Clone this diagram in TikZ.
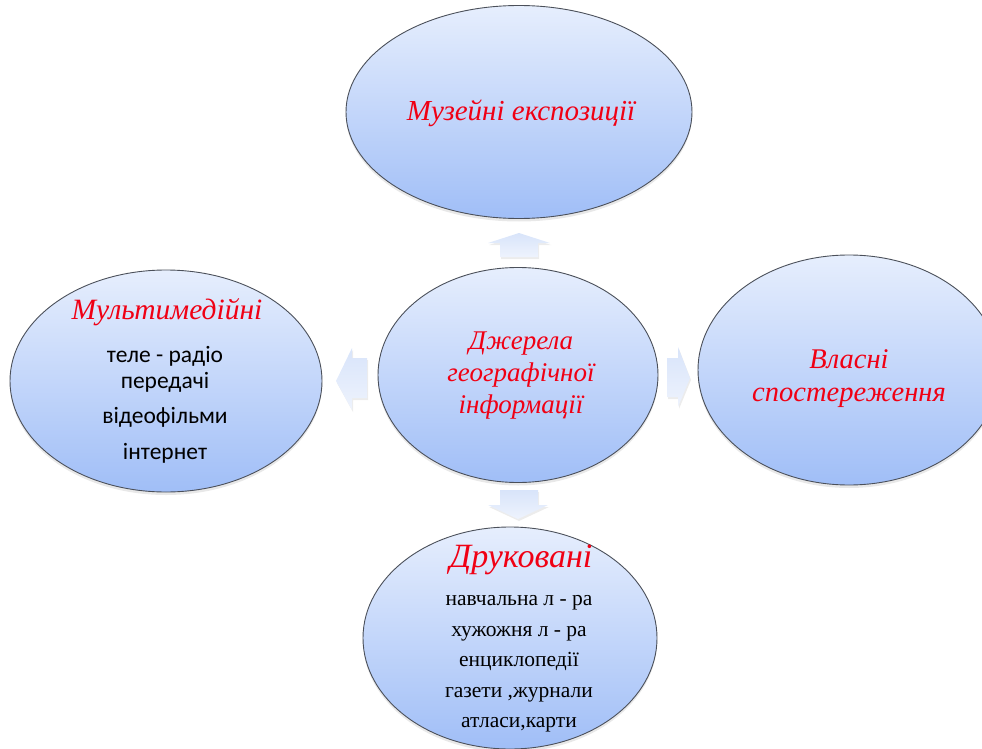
\documentclass[tikz,border=0pt]{standalone}
\usepackage{fontspec}
\setmainfont{Liberation Serif}
\newfontfamily\calib{Carlito}
\usetikzlibrary{shapes.geometric,shadows}
\definecolor{btop}{RGB}{230,238,253}
\definecolor{bbot}{RGB}{160,190,247}
\definecolor{bline}{RGB}{75,80,90}
\definecolor{atop}{RGB}{216,228,250}
\definecolor{abot}{RGB}{238,243,253}
\definecolor{redtxt}{RGB}{240,0,20}
\begin{document}
\begin{tikzpicture}[x=1pt,y=-1pt,
  bubble/.style={ellipse, draw=bline, line width=0.9pt, top color=btop, bottom color=bbot,
    inner sep=0pt, drop shadow={opacity=0.18, shadow xshift=0pt, shadow yshift=-3pt}},
  redt/.style={text=redtxt, font=\itshape\fontsize{#1}{#1}\selectfont, align=center, inner sep=0pt},
  blkc/.style={text=black, font=\calib\fontsize{23.5}{26}\selectfont, align=center, inner sep=0pt},
  blkt/.style={text=black, font=\fontsize{21.5}{30.5}\selectfont, align=center, inner sep=0pt},
  blockarrow/.style={draw=none, top color=atop, bottom color=abot,
    drop shadow={opacity=0.15, shadow xshift=1pt, shadow yshift=-2pt}}]
\useasboundingbox (0,0) rectangle (982,749);

% ellipses
\node[bubble, minimum width=346pt, minimum height=213pt] (top) at (519,112) {};
\node[bubble, minimum width=280pt, minimum height=215pt] (ctr) at (518,375) {};
\node[bubble, minimum width=312pt, minimum height=222pt] (lft) at (166,381) {};
\node[bubble, minimum width=302pt, minimum height=230pt] (rgt) at (849,370) {};
\node[bubble, minimum width=294pt, minimum height=222pt] (bot) at (510,638) {};

% block arrows
\coordinate (au) at (519,233);
\coordinate (al) at (336,381);
\coordinate (ar) at (690,378);
\coordinate (ad) at (518,519);
\path[blockarrow] (au) -- ++(31,10) -- ++(-12,0) -- ++(0,14) -- ++(-38,0) -- ++(0,-14) -- ++(-12,0) -- cycle;
\path[blockarrow] (al) -- ++(16,-33) -- ++(0,10) -- ++(15,0) -- ++(0,40) -- ++(-15,0) -- ++(0,12) -- cycle;
\path[blockarrow] (ar) -- ++(-12,-31) -- ++(0,11) -- ++(-11,0) -- ++(0,39) -- ++(11,0) -- ++(0,10) -- cycle;
\path[blockarrow] (ad) -- ++(-30,-14) -- ++(12,0) -- ++(0,-15) -- ++(38,0) -- ++(0,15) -- ++(10,0) -- cycle;

% texts
\node[redt=29] (ttop) at (521,113) {Музейні експозиції};
\node[redt=27, font=\itshape\fontsize{27}{32}\selectfont] (tctr) at (521,376) {Джерела\\ географічної\\ інформації};
\node[redt=29.5] (tlft) at (167,312) {Мультимедійні};
\node[blkc] (l1) at (165,369) {теле - радіо\\ передачі};
\node[blkc] (l2) at (165,417) {відеофільми};
\node[blkc] (l3) at (165,453) {інтернет};
\node[redt=28.5, font=\itshape\fontsize{28.5}{33}\selectfont] (trgt) at (849,379) {Власні\\ спостереження};
\node[redt=34] (tbot) at (521,560) {Друковані};
\node[blkt] (b1) at (519,664) {навчальна л - ра\\ хужожня л - ра\\ енциклопедії\\ газети ,журнали\\ атласи,карти};
\end{tikzpicture}
\end{document}
